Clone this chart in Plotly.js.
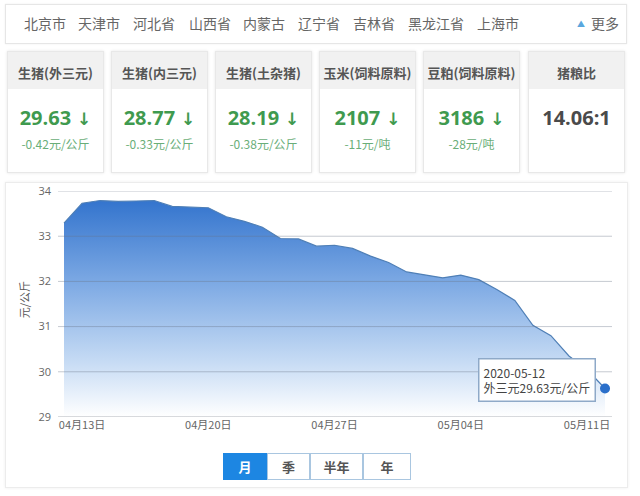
<!DOCTYPE html>
<html>
<head>
<meta charset="utf-8">
<script src="https://cdn.plot.ly/plotly-3.0.1.min.js"></script>
<style>
  html, body { margin:0; padding:0; background:#fff; width:640px; height:496px; overflow:hidden;
    font-family: "Noto Sans CJK SC", "Open Sans", sans-serif; }
  .abs { position:absolute; box-sizing:border-box; }
  #topbar { left:5px; top:4px; width:622px; height:40px; border:1px solid #e6e6e6; box-shadow:0 0 2px #eee; }
  .city { position:absolute; top:15px; font-size:14px; color:#666; line-height:16px; white-space:nowrap; }
  .card { width:97px; top:51px; height:122px; border:1px solid #e8e8e8; box-shadow:0 0 3px #e6e6e6; background:#fff; }
  .card .hd { position:absolute; left:0; top:0; width:100%; height:37px; background:#f1f1f1;
    text-align:center; font-size:13px; font-weight:bold; color:#555; line-height:41px; }
  .card .val { position:absolute; left:0; top:54px; width:100%; text-align:center; font-family:"Open Sans", sans-serif;
    font-size:20px; font-weight:bold; color:#3f9a4f; line-height:24px; white-space:nowrap; }
  .card .val.neutral { color:#4a4a4a; }
  .card .arr { font-family:"DejaVu Sans", sans-serif; font-size:17px; margin-left:6px; font-weight:bold; }
  .card .chg { position:absolute; left:0; top:84px; width:100%; text-align:center; font-size:12px; color:#6aae78;
    line-height:16px; white-space:nowrap; }
  #panel { left:5px; top:182px; width:623px; height:306px; border:1px solid #ececec; box-shadow:0 0 3px #eee; }
  #chart { left:5px; top:182px; width:623px; height:306px; }
  .btn { top:453px; height:27px; border:1px solid #a9c6e0; background:#fff; color:#555; font-size:13px;
    font-weight:bold; text-align:center; line-height:25px; }
  .btn.on { background:#1d86e2; color:#fff; border-color:#1d86e2; }
</style>
</head>
<body>
<div id="topbar" class="abs"></div>
<div id="cards"></div>
<div id="panel" class="abs"></div>
<div id="chart" class="abs"></div>
<div id="btns"></div>
<script>
// ---------- data ----------
var cities = ['北京市','天津市','河北省','山西省','内蒙古','辽宁省','吉林省','黑龙江省','上海市'];
var moreLabel = '更多';

var cardTitles  = ['生猪(外三元)','生猪(内三元)','生猪(土杂猪)','玉米(饲料原料)','豆粕(饲料原料)','猪粮比'];
var cardValues  = ['29.63','28.77','28.19','2107','3186','14.06:1'];
var cardChanges = ['-0.42元/公斤','-0.33元/公斤','-0.38元/公斤','-11元/吨','-28元/吨',''];
var cardDown    = [true,true,true,true,true,false];

var dates = ['2020-04-12','2020-04-13','2020-04-14','2020-04-15','2020-04-16','2020-04-17','2020-04-18',
             '2020-04-19','2020-04-20','2020-04-21','2020-04-22','2020-04-23','2020-04-24','2020-04-25',
             '2020-04-26','2020-04-27','2020-04-28','2020-04-29','2020-04-30','2020-05-01','2020-05-02',
             '2020-05-03','2020-05-04','2020-05-05','2020-05-06','2020-05-07','2020-05-08','2020-05-09',
             '2020-05-10','2020-05-11','2020-05-12'];
var prices = [33.29,33.73,33.79,33.77,33.78,33.79,33.66,33.64,33.63,33.43,33.33,33.20,32.95,32.94,
              32.78,32.80,32.73,32.56,32.42,32.21,32.15,32.08,32.14,32.04,31.82,31.58,31.03,30.80,
              30.35,30.05,29.63];

var tickDates  = ['2020-04-13','2020-04-20','2020-04-27','2020-05-04','2020-05-11'];
var tickLabels = ['04月13日','04月20日','04月27日','05月04日','05月11日'];
var yTicks = [29,30,31,32,33,34];
var yTitle = '元/公斤';
var seriesName = '外三元';
var unit = '元/公斤';

var rangeButtons = ['月','季','半年','年'];

// ---------- top bar ----------
var cityX = [24,78,133,189,243,298,353,408,477];
cities.forEach(function(c,i){
  var d = document.createElement('div'); d.className='city'; d.textContent=c;
  d.style.left = cityX[i]+'px';
  document.body.appendChild(d);
});
var dot = document.createElement('div'); dot.className='city';
dot.innerHTML = '<span style="color:#5aa7de;font-size:8px;position:relative;top:-2px">&#9650;</span>';
dot.style.left='577px'; document.body.appendChild(dot);
var more = document.createElement('div'); more.className='city'; more.textContent=moreLabel;
more.style.left='591px'; document.body.appendChild(more);

// ---------- cards ----------
var cardLeft = [7,111,215,319,423,528];
var cc = document.getElementById('cards');
cardTitles.forEach(function(t,i){
  var c = document.createElement('div'); c.className='card abs'; c.style.left=cardLeft[i]+'px';
  var hd = document.createElement('div'); hd.className='hd'; hd.textContent=t; c.appendChild(hd);
  var v = document.createElement('div'); v.className='val'+(cardDown[i]?'':' neutral');
  v.textContent = cardValues[i];
  if (cardDown[i]) { var a=document.createElement('span'); a.className='arr'; a.textContent='\u2193'; v.appendChild(a); }
  c.appendChild(v);
  if (cardChanges[i]) { var ch=document.createElement('div'); ch.className='chg'; ch.textContent=cardChanges[i]; c.appendChild(ch); }
  cc.appendChild(c);
});

// ---------- buttons ----------
var btnLeft = [223,267,310,363], btnW = [44,43,53,48];
var bc = document.getElementById('btns');
rangeButtons.forEach(function(b,i){
  var d=document.createElement('div'); d.className='btn abs'+(i===0?' on':'');
  d.style.left=btnLeft[i]+'px'; d.style.width=btnW[i]+'px'; d.textContent=b; bc.appendChild(d);
});

// ---------- chart ----------
var n = dates.length;
var lastDate = dates[n-1], lastVal = prices[n-1];

var area = {
  x: dates, y: prices, type:'scatter', mode:'lines', fill:'tozeroy',
  line:{color:'#4f7fb6', width:1.2},
  fillgradient:{type:'vertical', start:29, stop:33.9,
    colorscale:[[0,'rgba(255,255,255,1)'],[0.25,'#c6dbf4'],[0.6,'#7eaae4'],[1,'#2f71cc']]},
  hoverinfo:'skip'
};
var lastPt = {
  x:[lastDate], y:[lastVal], type:'scatter', mode:'markers',
  marker:{color:'#2a6fca', size:10}, hoverinfo:'skip'
};

// horizontal grid lines drawn above the area fill (as in the reference)
var gridShapes = yTicks.map(function(v){
  return {type:'line', xref:'paper', yref:'y', x0:0, x1:1, y0:v, y1:v, layer:'above',
          line:{color: v === yTicks[0] ? 'rgba(120,125,135,0.5)' : 'rgba(105,115,135,0.38)', width:1}};
});

var layout = {
  width:623, height:306,
  margin:{l:53, r:16, t:9, b:71},
  paper_bgcolor:'rgba(0,0,0,0)', plot_bgcolor:'rgba(0,0,0,0)',
  showlegend:false,
  font:{family:'"Open Sans", "Noto Sans CJK SC", sans-serif', color:'#666', size:11},
  xaxis:{type:'date', range:['2020-04-11 16:00','2020-05-12 09:18'],
    tickvals:tickDates, ticktext:tickLabels, showgrid:false, zeroline:false,
    showline:false, ticks:'', ticklabeloverflow:'allow',
    tickfont:{size:11, color:'#666', family:'"Noto Sans CJK SC", sans-serif'}, fixedrange:true},
  yaxis:{range:[28.999,34.001], tickvals:yTicks, showgrid:false,
    zeroline:false, showline:false, ticks:'', ticklabelstandoff:6, ticklabeloverflow:'allow',
    tickfont:{size:11, color:'#666', family:'"Open Sans", sans-serif'}, fixedrange:true},
  shapes: gridShapes,
  annotations:[
    {xref:'paper', yref:'paper', x:-0.06, y:0.52, text:yTitle, textangle:-90, showarrow:false,
     font:{size:11, color:'#555', family:'"Noto Sans CJK SC", sans-serif'}, xanchor:'center', yanchor:'middle'},
    {x:lastDate, y:lastVal, xref:'x', yref:'y', showarrow:false, xanchor:'right', yanchor:'middle',
     xshift:-9, yshift:8, align:'left',
     text: lastDate + '<br>' + seriesName + lastVal.toFixed(2) + unit,
     font:{size:12, color:'#444', family:'"Noto Sans CJK SC", sans-serif'},
     bgcolor:'#ffffff', bordercolor:'#8ea9c8', borderwidth:1.5, borderpad:4}
  ]
};

Plotly.newPlot('chart', [area, lastPt], layout, {displayModeBar:false, staticPlot:true});
</script>
</body>
</html>
